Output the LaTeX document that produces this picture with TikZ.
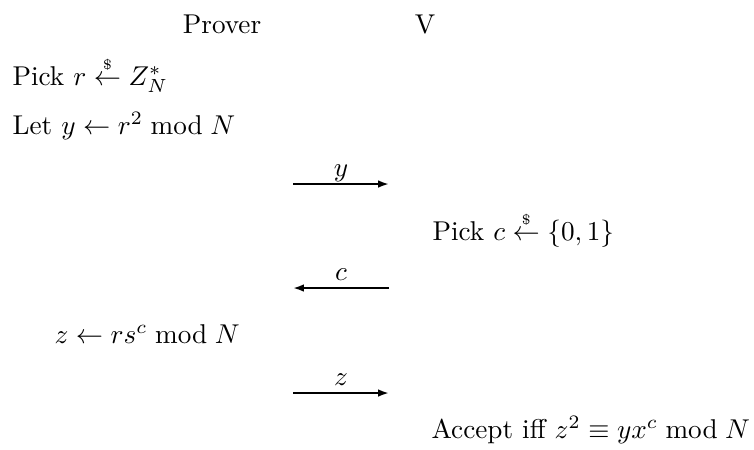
\documentclass[tikz,border=0pt]{standalone}
\usetikzlibrary{arrows.meta}
\newcommand{\rnd}{\stackrel{\scriptscriptstyle\$}{\leftarrow}}
\begin{document}
\begin{tikzpicture}[x=0.3676pt,y=-0.3676pt,
  txt/.style={inner sep=0pt, anchor=base west},
  head/.style={inner sep=0pt, anchor=base},
  msg/.style={line width=0.75pt, -{Latex[length=4pt,width=2.8pt]}},
  mlabel/.style={midway, inner sep=0pt, anchor=base, yshift=2.6pt}]
\useasboundingbox (0,0) rectangle (754,449);
\node[head] (prover) at (222,33) {Prover};
\node[head] (ver) at (425,33) {V};
\node[txt] (s1) at (12,85) {Pick $r \rnd Z_N^*$};
\node[txt] (s2) at (12,134) {Let $y \leftarrow r^2 \bmod N$};
\coordinate (a1l) at (293,184);
\coordinate (a1r) at (389,184);
\draw[msg] (a1l) -- node[mlabel] {$y$} (a1r);
\node[txt] (s3) at (432,240) {Pick $c \rnd \{0,1\}$};
\coordinate (a2l) at (293,288);
\coordinate (a2r) at (389,288);
\draw[msg] (a2r) -- node[mlabel] {$c$} (a2l);
\node[txt] (s4) at (54,343) {$z \leftarrow rs^c \bmod N$};
\coordinate (a3l) at (293,393);
\coordinate (a3r) at (389,393);
\draw[msg] (a3l) -- node[mlabel] {$z$} (a3r);
\node[txt] (s5) at (431,438) {Accept iff $z^2 \equiv yx^c \bmod N$};
\end{tikzpicture}
\end{document}
